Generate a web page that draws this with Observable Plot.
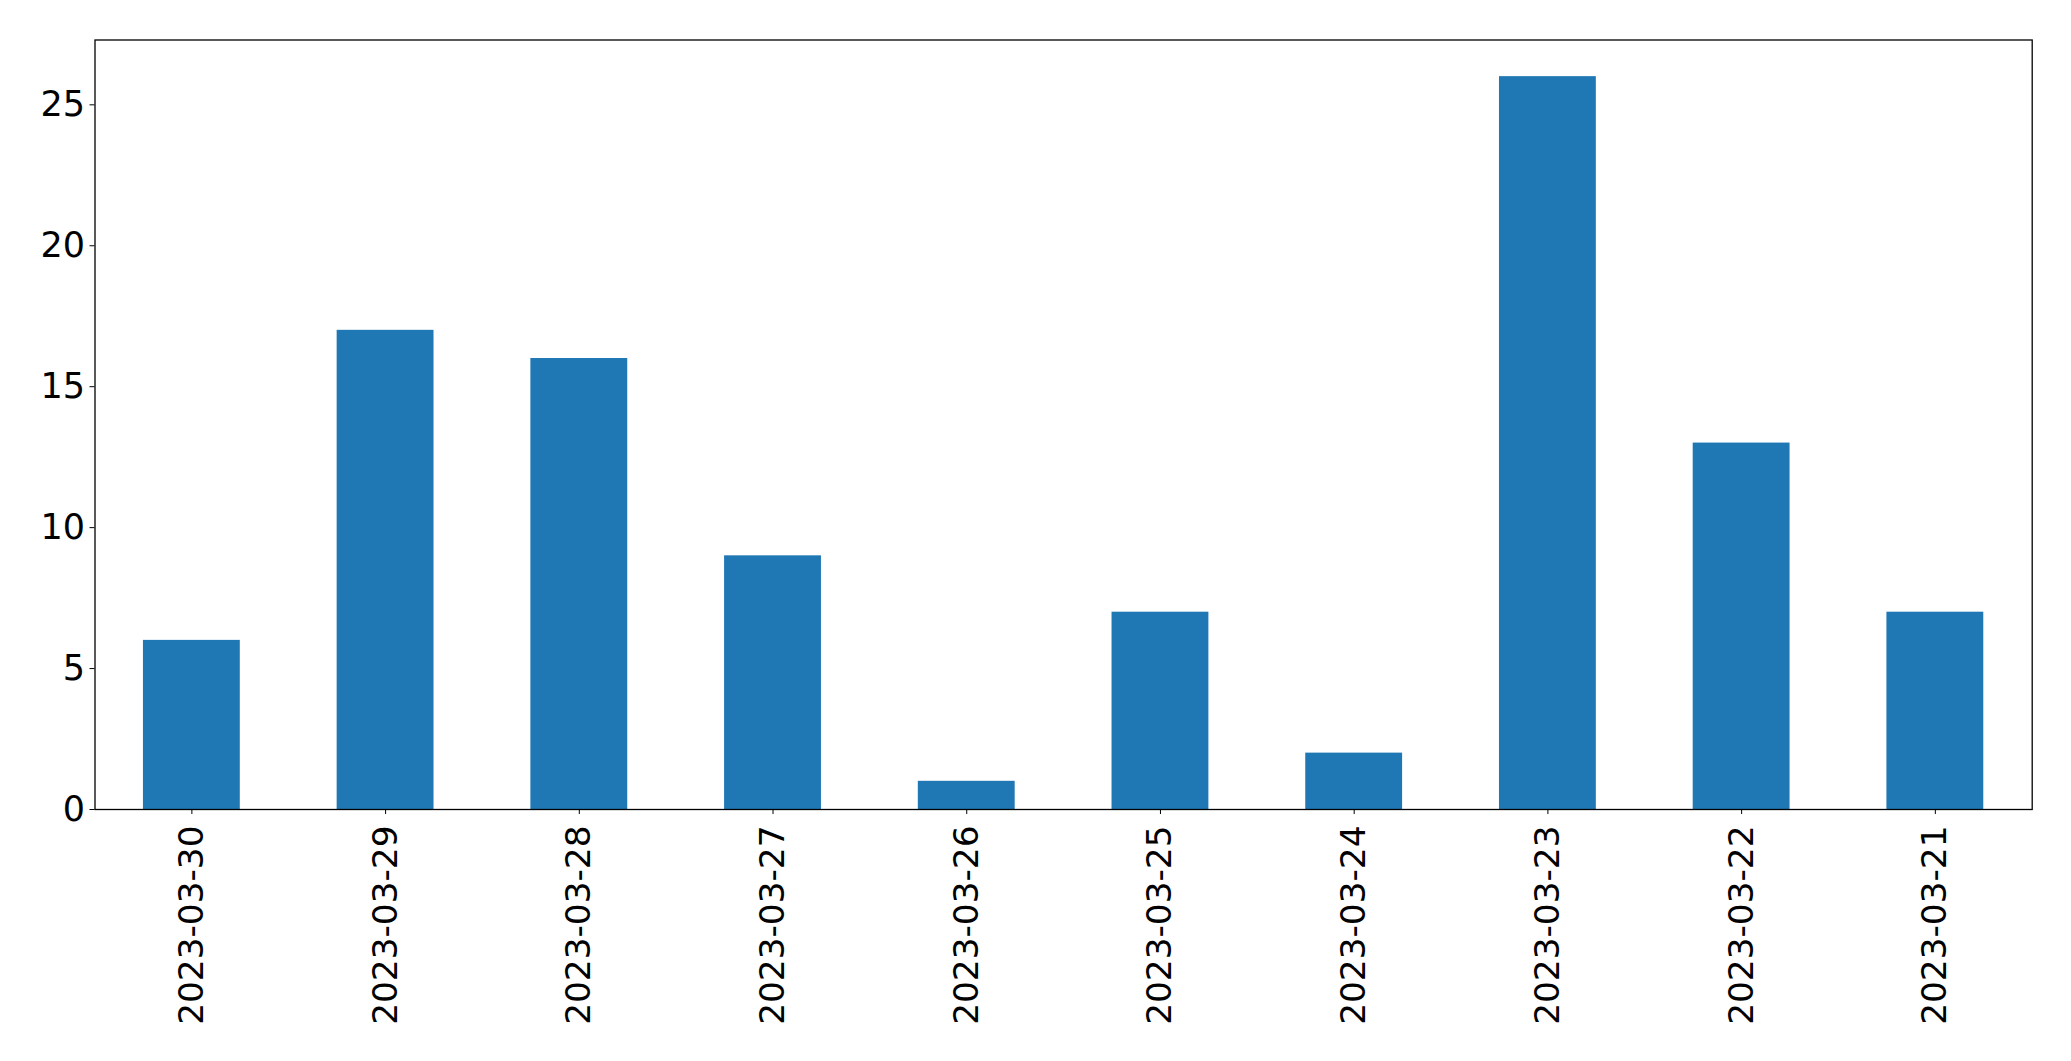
<!DOCTYPE html>
<html>
<head>
<meta charset="utf-8">
<script src="https://cdn.jsdelivr.net/npm/d3@7"></script>
<script src="https://cdn.jsdelivr.net/npm/@observablehq/plot@0.6"></script>
<style>
  html, body { margin: 0; padding: 0; background: #fff; overflow: hidden; }
  svg { display: block; }
</style>
</head>
<body>
<div id="chart"></div>
<script>
const dates = ["2023-03-30","2023-03-29","2023-03-28","2023-03-27","2023-03-26","2023-03-25","2023-03-24","2023-03-23","2023-03-22","2023-03-21"];
const counts = [6, 17, 16, 9, 1, 7, 2, 26, 13, 7];
const yTicks = [0, 5, 10, 15, 20, 25];

const data = dates.map((d, i) => ({date: d, count: counts[i]}));

const chart = Plot.plot({
  width: 2071,
  height: 1061,
  marginLeft: 94.5,
  marginRight: 39.3,
  marginTop: 39.5,
  marginBottom: 252,
  style: {fontFamily: "DejaVu Sans", fontSize: "35px", color: "#000", background: "#fff"},
  x: {domain: dates, padding: 0.5, paddingOuter: 0.25, round: false, label: null},
  y: {domain: [0, 27.3], label: null},
  marks: [
    Plot.barY(data, {x: "date", y: "count", fill: "#1f77b4"}),
    Plot.axisY({ticks: yTicks, tickSize: 5, tickPadding: 5, label: null, fontSize: 35, fontVariant: "normal"}),
    Plot.axisX({tickSize: 5, tickPadding: 11, tickRotate: -90, label: null, fontSize: 34.3, fontVariant: "normal"}),
    Plot.frame({stroke: "#000", strokeWidth: 1.3})
  ]
});
document.getElementById("chart").appendChild(chart);
</script>
</body>
</html>
